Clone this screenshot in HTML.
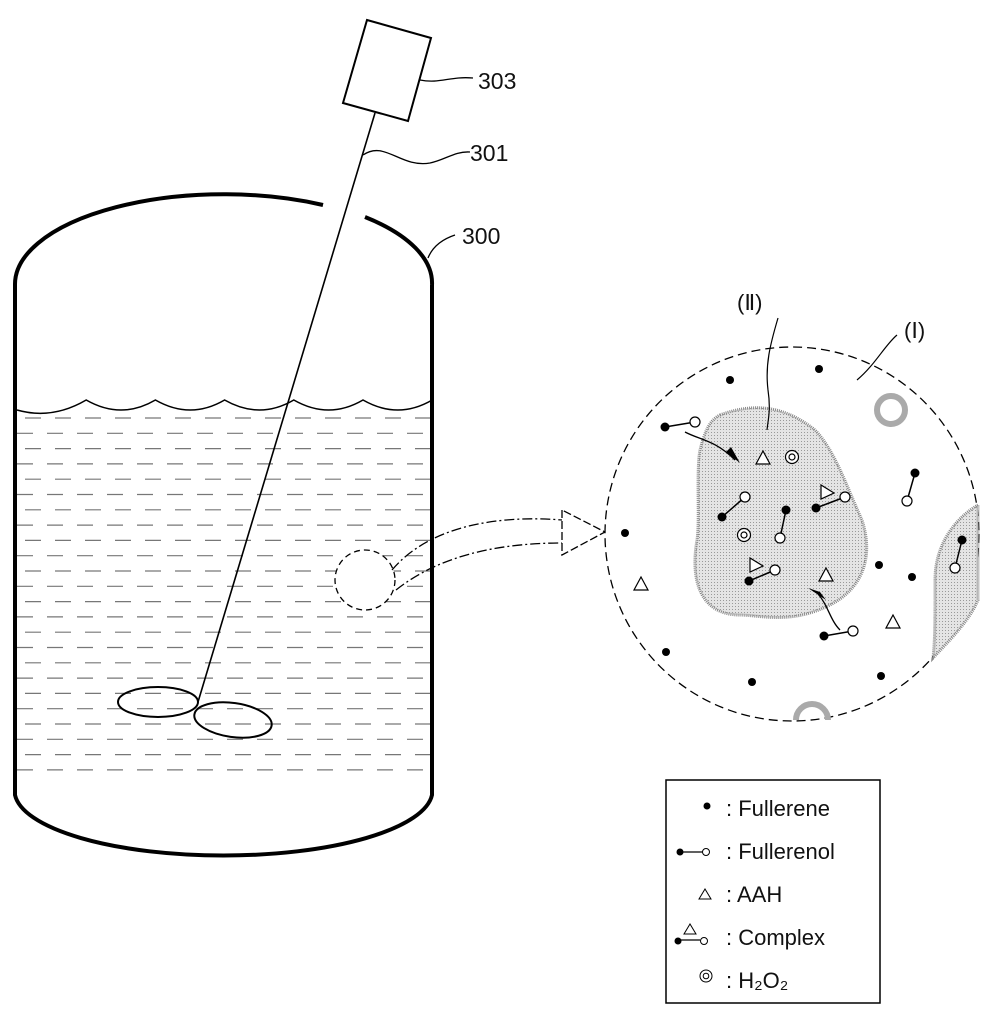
<!DOCTYPE html>
<html><head><meta charset="utf-8"><style>
html,body{margin:0;padding:0;background:#fff;}
svg{display:block;}
text{font-family:"Liberation Sans",sans-serif;fill:#111;}
</style></head><body>
<svg id="s" width="998" height="1017" viewBox="0 0 998 1017">
<defs>
<pattern id="dots" width="3" height="3" patternUnits="userSpaceOnUse"><rect width="3" height="3" fill="#e4e4e4"/><rect width="1" height="1" fill="#999"/></pattern>
</defs>
<g fill="none" stroke="#000">
<path d="M15,285 A209,90 0 0 1 323,205" stroke-width="4"/>
<path d="M365,217 A209,90 0 0 1 432,285" stroke-width="4"/>
<path d="M15,285 L15,795 A209,65 0 0 0 432,795 L432,285" stroke-width="4"/>
</g>
<g id="water"></g>
<g fill="none" stroke="#000" stroke-width="2">
<polygon points="367,20 431,38 408,121 343,103" fill="#fff"/>
<line x1="375" y1="113" x2="198" y2="702" stroke-width="1.6"/>
<ellipse cx="158" cy="702" rx="40" ry="15"/>
<ellipse cx="233" cy="720" rx="39" ry="17" transform="rotate(8 233 720)"/>
<path d="M420,80 C440,84 450,76 473,78" stroke-width="1.3"/>
<path d="M363,155 C385,140 400,168 430,163 C445,160 455,151 470,152" stroke-width="1.3"/>
<path d="M428,258 C432,248 440,240 455,235" stroke-width="1.3"/>
</g>
<text x="478" y="89" font-size="23">303</text>
<text x="470" y="161" font-size="23">301</text>
<text x="462" y="244" font-size="23">300</text>
<g fill="none" stroke="#000" stroke-width="1.3">
<circle cx="365" cy="580" r="30" fill="#fff" stroke-dasharray="6,4"/>
<path d="M392,570 C430,525 500,515 562,520" stroke-dasharray="10,3,2,3"/>
<path d="M396,590 C440,555 500,543 562,543" stroke-dasharray="10,3,2,3"/>
<polygon points="562,510 562,555 605,532" fill="#fff" stroke-dasharray="8,3"/>
</g>
<g>
<circle cx="792" cy="534" r="187" fill="#fff" stroke="#000" stroke-width="1.3" stroke-dasharray="9,5"/>
<path d="M720,415 C760,400 790,410 815,430 C835,450 848,490 862,520 C875,560 860,590 830,605 C790,625 760,615 740,615 C700,615 690,580 697,540 C700,520 696,470 700,450 C705,430 710,420 720,415 Z" fill="url(#dots)" stroke="#888" stroke-width="3" stroke-dasharray="1,1"/>
<path d="M978,505 C960,515 935,540 935,580 C935,620 935,640 933,658 C950,640 970,620 978,600 Z" fill="url(#dots)" stroke="#888" stroke-width="3" stroke-dasharray="1,1"/>
<circle cx="891" cy="410" r="14" fill="none" stroke="#aaa" stroke-width="6"/>
<path d="M796,720 A16,16 0 0 1 828,720" fill="none" stroke="#aaa" stroke-width="6"/>
<path d="M778,318 C770,345 765,365 768,390 C771,410 768,420 767,430" fill="none" stroke="#000" stroke-width="1.2"/>
<path d="M897,335 C885,345 875,365 857,380" fill="none" stroke="#000" stroke-width="1.2"/>
<text x="737" y="310" font-size="22" font-family="Liberation Serif">(Ⅱ)</text>
<text x="904" y="338" font-size="22" font-family="Liberation Serif">(Ⅰ)</text>
<path d="M685,432 C700,440 715,440 735,460" fill="none" stroke="#000" stroke-width="1.3"/>
<polygon points="726,452 740,463 731,447" fill="#000"/>
<path d="M840,630 C830,620 828,605 818,594" fill="none" stroke="#000" stroke-width="1.3"/>
<polygon points="808,588 826,600 820,592" fill="#000"/>
<g id="parts"></g>
</g>
<g>
<rect x="666" y="780" width="214" height="223" fill="#fff" stroke="#000" stroke-width="1.5"/>
<g id="leg"></g>
</g>
</svg>
<script>
var NS="http://www.w3.org/2000/svg";
function mk(p,t,a){var e=document.createElementNS(NS,t);for(var k in a)e.setAttribute(k,a[k]);p.appendChild(e);return e;}
var w=document.getElementById('water');
var wv="M17,410";
for(var i=0;i<6;i++){var x0=17+i*69.2;wv+=" Q"+(x0+35)+","+(420)+" "+(x0+69.2)+","+(400);}
var wp=mk(w,'path',{d:wv,fill:'none',stroke:'#000','stroke-width':1.5});


for(var y=418,j=0;y<780;y+=15.3,j++){
 var l=mk(w,'line',{x1:17,y1:y,x2:430,y2:y,stroke:'#777','stroke-width':1.2,'stroke-dasharray':'16,14','stroke-dashoffset':j%2?0:-8});
 
 
}
var P=document.getElementById('parts');
var dotsXY=[[730,380],[819,369],[625,533],[666,652],[752,682],[879,565],[912,577],[881,676]];
dotsXY.forEach(function(d){var c=mk(P,'circle',{cx:d[0],cy:d[1],r:4,fill:'#000'});});
var ols=[[665,427,695,422],[722,517,745,497],[786,510,780,538],[915,473,907,501],[962,540,955,568],[824,636,853,631],[816,508,845,497],[749,581,775,570]];
ols.forEach(function(o){mk(P,'line',{x1:o[0],y1:o[1],x2:o[2],y2:o[3],stroke:'#000','stroke-width':1.5});var c=mk(P,'circle',{cx:o[0],cy:o[1],r:4.5,fill:'#000'});mk(P,'circle',{cx:o[2],cy:o[3],r:5,fill:'#fff',stroke:'#000','stroke-width':1.2});});
var tris=[[763,458],[826,575],[641,584],[893,622]];
tris.forEach(function(t){var p=mk(P,'polygon',{points:(t[0]-7)+","+(t[1]+6)+" "+(t[0]+7)+","+(t[1]+6)+" "+t[0]+","+(t[1]-7),fill:'#fff',stroke:'#000','stroke-width':1.2});});
[[826,493],[755,566]].forEach(function(t){mk(P,'polygon',{points:(t[0]-5)+","+(t[1]-8)+" "+(t[0]-5)+","+(t[1]+6)+" "+(t[0]+8)+","+t[1],fill:'#fff',stroke:'#000','stroke-width':1.2});});
[[792,457],[744,535]].forEach(function(h){mk(P,'circle',{cx:h[0],cy:h[1],r:6.5,fill:'#fff',stroke:'#000','stroke-width':1.2});var c=mk(P,'circle',{cx:h[0],cy:h[1],r:3,fill:'none',stroke:'#000','stroke-width':1.2});});
var L=document.getElementById('leg');
var labels=["Fullerene","Fullerenol","AAH","Complex","H₂O₂"];
var ys=[808,851,894,937,980];
for(var k=0;k<5;k++){var y=ys[k]+8;
 var t=mk(L,'text',{x:726,y:y,'font-size':22});t.textContent=": "+labels[k];
 }
mk(L,'circle',{cx:707,cy:806,r:3.5,fill:'#000'});
mk(L,'line',{x1:680,y1:852,x2:703,y2:852,stroke:'#000','stroke-width':1.3});mk(L,'circle',{cx:680,cy:852,r:3.5,fill:'#000'});mk(L,'circle',{cx:706,cy:852,r:3.5,fill:'#fff',stroke:'#000'});
mk(L,'polygon',{points:"699,899 711,899 705,889",fill:'#fff',stroke:'#000'});
mk(L,'line',{x1:678,y1:940,x2:700,y2:940,stroke:'#000','stroke-width':1.3});mk(L,'circle',{cx:678,cy:941,r:3.5,fill:'#000'});mk(L,'circle',{cx:704,cy:941,r:3.5,fill:'#fff',stroke:'#000'});mk(L,'polygon',{points:"684,934 696,934 690,924",fill:'#fff',stroke:'#000'});
mk(L,'circle',{cx:706,cy:976,r:6,fill:'#fff',stroke:'#000'});mk(L,'circle',{cx:706,cy:976,r:2.8,fill:'none',stroke:'#000'});
</script>
</body></html>
